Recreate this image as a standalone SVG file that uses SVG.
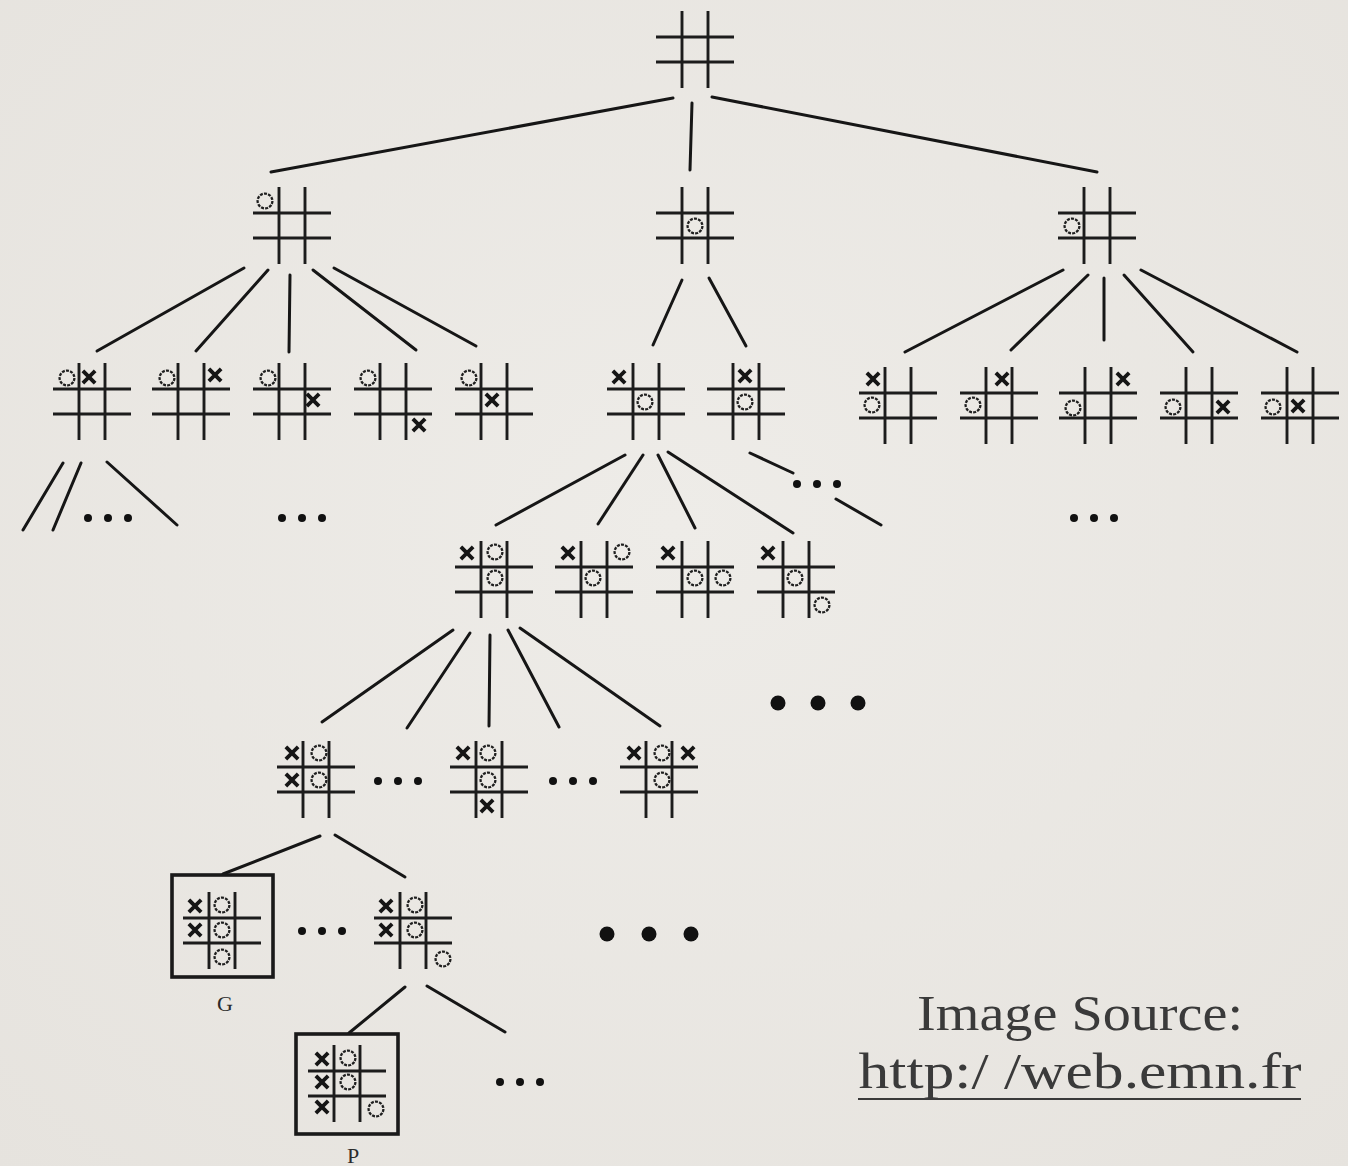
<svg xmlns="http://www.w3.org/2000/svg" xmlns:xlink="http://www.w3.org/1999/xlink" width="1348" height="1166" viewBox="0 0 1348 1166">
  <style>
    .ln { stroke: #1c1c1c; stroke-width: 2.9; stroke-linecap: butt; fill: none; }
    .edge { stroke: #161616; stroke-width: 3; stroke-linecap: round; fill: none; }
    .mx { stroke: #151515; stroke-width: 3.8; stroke-linecap: square; fill: none; }
    .mo { fill: none; stroke: #1f1f1f; stroke-width: 2.3; stroke-dasharray: 3 1.2; }
    .dot { fill: #111; }
    .box { fill: none; stroke: #1a1a1a; stroke-width: 3.6; }
    .lbl { font-family: "Liberation Serif", "DejaVu Serif", serif; font-size: 22px; fill: #2b2b2b; text-anchor: middle; }
    .src { font-family: "Liberation Serif", "DejaVu Serif", serif; font-size: 50px; fill: #3a3a3a; text-anchor: middle; }
  </style>
  <defs>
    <radialGradient id="bg" cx="50%" cy="45%" r="75%">
      <stop offset="0" stop-color="#eeece8"/>
      <stop offset="1" stop-color="#e6e3de"/>
    </radialGradient>
    <!-- empty 3x3 board: two vertical and two horizontal strokes -->
    <g id="grid">
      <line class="ln" x1="26" y1="0" x2="26" y2="77"/>
      <line class="ln" x1="52" y1="0" x2="52" y2="77"/>
      <line class="ln" x1="0" y1="26" x2="78" y2="26"/>
      <line class="ln" x1="0" y1="51" x2="78" y2="51"/>
    </g>
    <path id="x" class="mx" d="M-4.8,-4.8 L4.8,4.8 M4.8,-4.8 L-4.8,4.8"/>
    <circle id="o" class="mo" r="7.4"/>
  </defs>

  <rect width="1348" height="1166" fill="url(#bg)"/>

  <!-- connectors -->
  <g id="edges">
    <line class="edge" x1="673" y1="98" x2="271" y2="172"/>
    <line class="edge" x1="692" y1="103" x2="690" y2="170"/>
    <line class="edge" x1="712" y1="97" x2="1097" y2="172"/>

    <line class="edge" x1="244" y1="268" x2="97" y2="351"/>
    <line class="edge" x1="268" y1="270" x2="196" y2="351"/>
    <line class="edge" x1="290" y1="275" x2="289" y2="352"/>
    <line class="edge" x1="313" y1="270" x2="416" y2="350"/>
    <line class="edge" x1="334" y1="268" x2="476" y2="346"/>

    <line class="edge" x1="682" y1="280" x2="653" y2="345"/>
    <line class="edge" x1="709" y1="278" x2="746" y2="346"/>

    <line class="edge" x1="1063" y1="270" x2="905" y2="352"/>
    <line class="edge" x1="1088" y1="275" x2="1011" y2="350"/>
    <line class="edge" x1="1104" y1="278" x2="1104" y2="340"/>
    <line class="edge" x1="1124" y1="275" x2="1193" y2="352"/>
    <line class="edge" x1="1141" y1="270" x2="1297" y2="352"/>

    <line class="edge" x1="63" y1="463" x2="23" y2="530"/>
    <line class="edge" x1="81" y1="463" x2="53" y2="530"/>
    <line class="edge" x1="107" y1="462" x2="177" y2="525"/>

    <line class="edge" x1="625" y1="455" x2="496" y2="525"/>
    <line class="edge" x1="643" y1="455" x2="598" y2="524"/>
    <line class="edge" x1="658" y1="455" x2="695" y2="528"/>
    <line class="edge" x1="668" y1="452" x2="793" y2="533"/>

    <line class="edge" x1="750" y1="453" x2="793" y2="473"/>
    <line class="edge" x1="836" y1="499" x2="881" y2="525"/>

    <line class="edge" x1="453" y1="630" x2="322" y2="722"/>
    <line class="edge" x1="470" y1="633" x2="407" y2="728"/>
    <line class="edge" x1="490" y1="635" x2="489" y2="726"/>
    <line class="edge" x1="508" y1="630" x2="559" y2="727"/>
    <line class="edge" x1="520" y1="628" x2="660" y2="726"/>

    <line class="edge" x1="320" y1="836" x2="223" y2="874"/>
    <line class="edge" x1="335" y1="835" x2="405" y2="877"/>

    <line class="edge" x1="405" y1="987" x2="349" y2="1033"/>
    <line class="edge" x1="427" y1="986" x2="505" y2="1032"/>
  </g>

  <!-- continuation dots -->
  <g id="ellipses">
    <circle class="dot" cx="88" cy="518" r="4"/><circle class="dot" cx="108" cy="518" r="4"/><circle class="dot" cx="128" cy="518" r="4"/>
    <circle class="dot" cx="282" cy="518" r="4"/><circle class="dot" cx="302" cy="518" r="4"/><circle class="dot" cx="322" cy="518" r="4"/>
    <circle class="dot" cx="797" cy="484" r="4"/><circle class="dot" cx="817" cy="484" r="4"/><circle class="dot" cx="837" cy="484" r="4"/>
    <circle class="dot" cx="1074" cy="518" r="4"/><circle class="dot" cx="1094" cy="518" r="4"/><circle class="dot" cx="1114" cy="518" r="4"/>
    <circle class="dot" cx="778" cy="703" r="7.5"/><circle class="dot" cx="818" cy="703" r="7.5"/><circle class="dot" cx="858" cy="703" r="7.5"/>
    <circle class="dot" cx="378" cy="781" r="4"/><circle class="dot" cx="398" cy="781" r="4"/><circle class="dot" cx="418" cy="781" r="4"/>
    <circle class="dot" cx="553" cy="781" r="4"/><circle class="dot" cx="573" cy="781" r="4"/><circle class="dot" cx="593" cy="781" r="4"/>
    <circle class="dot" cx="302" cy="931" r="4"/><circle class="dot" cx="322" cy="931" r="4"/><circle class="dot" cx="342" cy="931" r="4"/>
    <circle class="dot" cx="607" cy="934" r="7.5"/><circle class="dot" cx="649" cy="934" r="7.5"/><circle class="dot" cx="691" cy="934" r="7.5"/>
    <circle class="dot" cx="500" cy="1082" r="4"/><circle class="dot" cx="520" cy="1082" r="4"/><circle class="dot" cx="540" cy="1082" r="4"/>
  </g>

  <!-- root -->
  <g id="n-root"><use xlink:href="#grid" x="656" y="11"/></g>

  <!-- first move -->
  <g id="n-1a"><use xlink:href="#grid" x="253" y="187"/><use xlink:href="#o" x="265" y="201"/></g>
  <g id="n-1b"><use xlink:href="#grid" x="656" y="187"/><use xlink:href="#o" x="695" y="226"/></g>
  <g id="n-1c"><use xlink:href="#grid" x="1058" y="187"/><use xlink:href="#o" x="1072" y="226"/></g>

  <!-- second move -->
  <g id="n-2a"><use xlink:href="#grid" x="53" y="363"/><use xlink:href="#o" x="67" y="378"/><use xlink:href="#x" x="89" y="377"/></g>
  <g id="n-2b"><use xlink:href="#grid" x="152" y="363"/><use xlink:href="#o" x="167" y="378"/><use xlink:href="#x" x="215" y="375"/></g>
  <g id="n-2c"><use xlink:href="#grid" x="253" y="363"/><use xlink:href="#o" x="268" y="378"/><use xlink:href="#x" x="313" y="400"/></g>
  <g id="n-2d"><use xlink:href="#grid" x="354" y="363"/><use xlink:href="#o" x="368" y="378"/><use xlink:href="#x" x="419" y="425"/></g>
  <g id="n-2e"><use xlink:href="#grid" x="455" y="363"/><use xlink:href="#o" x="469" y="378"/><use xlink:href="#x" x="492" y="400"/></g>
  <g id="n-2f"><use xlink:href="#grid" x="607" y="363"/><use xlink:href="#x" x="619" y="377"/><use xlink:href="#o" x="645" y="402"/></g>
  <g id="n-2g"><use xlink:href="#grid" x="707" y="363"/><use xlink:href="#x" x="745" y="376"/><use xlink:href="#o" x="745" y="402"/></g>
  <g id="n-2h"><use xlink:href="#grid" x="859" y="367"/><use xlink:href="#x" x="873" y="379"/><use xlink:href="#o" x="872" y="405"/></g>
  <g id="n-2i"><use xlink:href="#grid" x="960" y="367"/><use xlink:href="#x" x="1002" y="379"/><use xlink:href="#o" x="973" y="405"/></g>
  <g id="n-2j"><use xlink:href="#grid" x="1059" y="367"/><use xlink:href="#x" x="1123" y="379"/><use xlink:href="#o" x="1073" y="408"/></g>
  <g id="n-2k"><use xlink:href="#grid" x="1160" y="367"/><use xlink:href="#o" x="1173" y="407"/><use xlink:href="#x" x="1223" y="407"/></g>
  <g id="n-2l"><use xlink:href="#grid" x="1261" y="367"/><use xlink:href="#o" x="1273" y="407"/><use xlink:href="#x" x="1298" y="406"/></g>

  <!-- third move -->
  <g id="n-3a"><use xlink:href="#grid" x="455" y="541"/><use xlink:href="#x" x="467" y="553"/><use xlink:href="#o" x="495" y="552"/><use xlink:href="#o" x="495" y="578"/></g>
  <g id="n-3b"><use xlink:href="#grid" x="555" y="541"/><use xlink:href="#x" x="568" y="553"/><use xlink:href="#o" x="622" y="552"/><use xlink:href="#o" x="593" y="578"/></g>
  <g id="n-3c"><use xlink:href="#grid" x="656" y="541"/><use xlink:href="#x" x="668" y="553"/><use xlink:href="#o" x="695" y="578"/><use xlink:href="#o" x="723" y="578"/></g>
  <g id="n-3d"><use xlink:href="#grid" x="757" y="541"/><use xlink:href="#x" x="768" y="553"/><use xlink:href="#o" x="795" y="578"/><use xlink:href="#o" x="822" y="605"/></g>

  <!-- fourth move -->
  <g id="n-4a"><use xlink:href="#grid" x="277" y="741"/><use xlink:href="#x" x="292" y="753"/><use xlink:href="#o" x="319" y="753"/><use xlink:href="#x" x="292" y="780"/><use xlink:href="#o" x="319" y="780"/></g>
  <g id="n-4b"><use xlink:href="#grid" x="450" y="741"/><use xlink:href="#x" x="463" y="753"/><use xlink:href="#o" x="488" y="753"/><use xlink:href="#o" x="488" y="780"/><use xlink:href="#x" x="487" y="806"/></g>
  <g id="n-4c"><use xlink:href="#grid" x="620" y="741"/><use xlink:href="#x" x="634" y="753"/><use xlink:href="#o" x="662" y="753"/><use xlink:href="#x" x="688" y="753"/><use xlink:href="#o" x="662" y="780"/></g>

  <!-- fifth move -->
  <g id="n-g">
    <rect class="box" x="172" y="875" width="101" height="102"/>
    <use xlink:href="#grid" x="183" y="892"/>
    <use xlink:href="#x" x="195" y="906"/><use xlink:href="#o" x="222" y="905"/>
    <use xlink:href="#x" x="195" y="930"/><use xlink:href="#o" x="222" y="930"/>
    <use xlink:href="#o" x="222" y="957"/>
    <text class="lbl" x="225" y="1011">G</text>
  </g>
  <g id="n-5b">
    <use xlink:href="#grid" x="374" y="892"/>
    <use xlink:href="#x" x="386" y="906"/><use xlink:href="#o" x="415" y="905"/>
    <use xlink:href="#x" x="386" y="930"/><use xlink:href="#o" x="415" y="930"/>
    <use xlink:href="#o" x="443" y="959"/>
  </g>

  <!-- sixth move -->
  <g id="n-p">
    <rect class="box" x="296" y="1034" width="102" height="100"/>
    <use xlink:href="#grid" x="308" y="1045"/>
    <use xlink:href="#x" x="322" y="1059"/><use xlink:href="#o" x="348" y="1058"/>
    <use xlink:href="#x" x="322" y="1082"/><use xlink:href="#o" x="348" y="1082"/>
    <use xlink:href="#x" x="322" y="1107"/><use xlink:href="#o" x="376" y="1109"/>
    <text class="lbl" x="353" y="1163">P</text>
  </g>

  <!-- source credit -->
  <g id="credit">
    <text class="src" x="1080" y="1030" textLength="326" lengthAdjust="spacingAndGlyphs">Image Source:</text>
    <text class="src" x="1080" y="1088" textLength="443" lengthAdjust="spacingAndGlyphs">http:/ /web.emn.fr</text>
    <line x1="858" y1="1099" x2="1301" y2="1099" stroke="#3a3a3a" stroke-width="2.2"/>
  </g>
</svg>
